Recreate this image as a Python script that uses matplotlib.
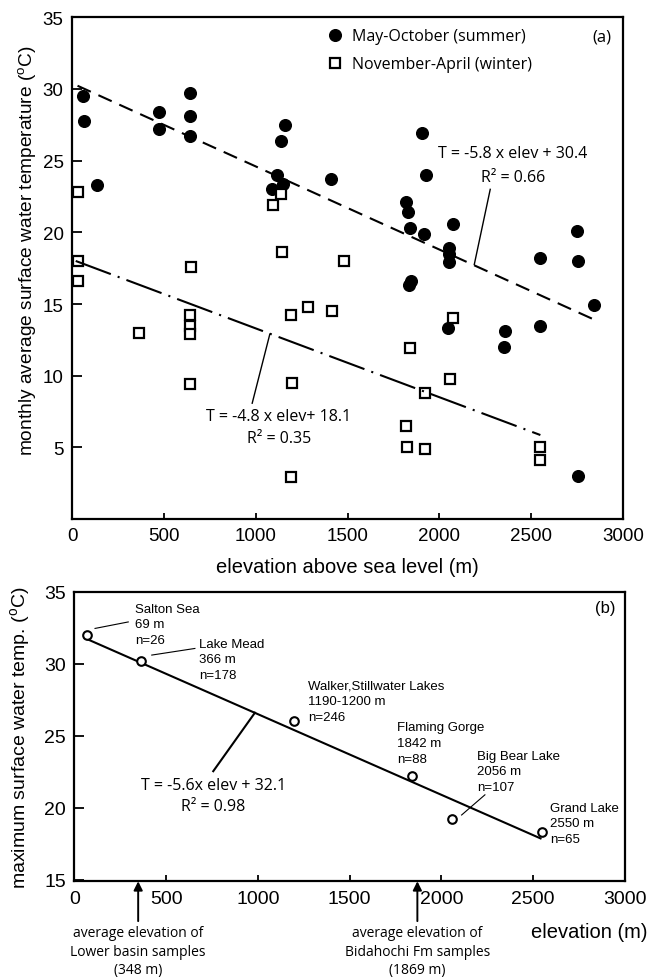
import numpy as np
import matplotlib.pyplot as plt

plt.rcParams['font.family'] = ['Liberation Sans', 'DejaVu Sans']
plt.rcParams['mathtext.fontset'] = 'custom'
plt.rcParams['mathtext.rm'] = 'Liberation Sans'
plt.rcParams['mathtext.it'] = 'Liberation Sans:italic'

NOTE_FONT = ['Open Sans', 'DejaVu Sans']

## (a) monthly average surface water temperature
summer_elev = [60, 63, 136, 472, 472, 645, 645, 640, 1158, 1136, 1118, 1150, 1090,
               1412, 1908, 1926, 1817, 1830, 1841, 1917, 2077, 2053, 2053, 2053,
               2550, 2750, 2753, 1834, 1845, 2844, 2550, 2359, 2353, 2045, 2753]
summer_temp = [29.5, 27.8, 23.3, 28.4, 27.2, 29.7, 28.1, 26.7, 27.5, 26.4, 24.0, 23.4, 23.0,
               23.7, 26.9, 24.0, 22.1, 21.4, 20.3, 19.9, 20.6, 18.9, 18.5, 17.9,
               18.2, 20.1, 18.0, 16.3, 16.6, 14.9, 13.5, 13.1, 12.0, 13.3, 3.0]

winter_elev = [33, 33, 33, 650, 1140, 1096, 1145, 1480, 367, 640, 640, 640, 640,
               1190, 1287, 1418, 1196, 1190, 2075, 1839, 2057, 1923, 1821, 1823,
               1921, 2550, 2550]
winter_temp = [22.8, 18.0, 16.6, 17.6, 22.7, 21.9, 18.6, 18.0, 13.0, 14.2, 13.5, 12.9, 9.4,
               14.2, 14.8, 14.5, 9.5, 2.9, 14.0, 11.9, 9.8, 8.8, 6.5, 5.0,
               4.9, 5.0, 4.1]

# linear fits, T = slope * elev(km) + intercept
summer_fit = (-5.8, 30.4)
winter_fit = (-4.8, 18.1)
summer_span = (30, 2840)
winter_span = (20, 2550)

## (b) maximum surface water temperature by lake
lake_names = ['Salton Sea', 'Lake Mead', 'Walker,Stillwater Lakes', 'Flaming Gorge',
              'Big Bear Lake', 'Grand Lake']
lake_elev = [69, 366, 1195, 1842, 2056, 2550]
lake_elev_txt = ['69 m', '366 m', '1190-1200 m', '1842 m', '2056 m', '2550 m']
lake_n = [26, 178, 246, 88, 107, 65]
lake_tmax = [32.0, 30.2, 26.0, 22.2, 19.2, 18.3]
max_fit = (-5.6, 32.1)
max_span = (69, 2540)

basin_elev = [348, 1869]
basin_names = ['Lower basin samples', 'Bidahochi Fm samples']


def fit_line(fit, span):
    x = np.array(span, dtype=float)
    return x, fit[0] * x / 1000.0 + fit[1]


def style_axes(ax):
    for s in ax.spines.values():
        s.set_linewidth(1.6)
    ax.tick_params(direction='in', width=1.3, labelsize=13.5, top=False, right=False)
    ax.tick_params(axis='y', length=7, pad=6)
    ax.tick_params(axis='x', length=4, pad=6)


fig = plt.figure(figsize=(6.5, 9.79), dpi=100)
ax1 = fig.add_axes([0.1108, 0.4688, 0.8477, 0.5125])
ax2 = fig.add_axes([0.1143, 0.0988, 0.8472, 0.2958])

# ---- top panel
x, y = fit_line(summer_fit, summer_span)
ax1.plot(x, y, color='k', lw=1.5, dashes=(7, 4), zorder=4)
x, y = fit_line(winter_fit, winter_span)
ax1.plot(x, y, color='k', lw=1.5, dashes=(18, 3.5, 1, 3.5), zorder=4)

h1, = ax1.plot(summer_elev, summer_temp, 'o', ms=8.4, color='k', zorder=2)
h2, = ax1.plot(winter_elev, winter_temp, 's', ms=7.5, mfc='white', mec='k', mew=1.6, zorder=3)

ax1.legend([h1, h2], ['May-October (summer)', 'November-April (winter)'],
           loc='center left', bbox_to_anchor=(0.4628, 0.9345), frameon=False,
           handlelength=1.0, handletextpad=0.55, borderpad=0, borderaxespad=0,
           labelspacing=0.75, prop={'family': NOTE_FONT, 'size': 11.5})

ax1.text(0.962, 0.961, '(a)', transform=ax1.transAxes, ha='center', va='center',
         family=NOTE_FONT, fontsize=12)

ax1.text(2399, 24.7, 'T = -5.8 x elev + 30.4\nR² = 0.66', ha='center', va='center',
         family=NOTE_FONT, fontsize=11.5, linespacing=1.6)
ax1.plot([2277, 2190], [23.0, 17.75], color='k', lw=1.0)

ax1.text(1127, 6.4, 'T = -4.8 x elev+ 18.1\nR² = 0.35', ha='center', va='center',
         family=NOTE_FONT, fontsize=11.5, linespacing=1.5)
ax1.plot([981, 1077], [8.08, 12.9], color='k', lw=1.0)

ax1.set_xlim(0, 3000)
ax1.set_ylim(0, 35)
ax1.set_xticks(np.arange(0, 3001, 500))
ax1.set_yticks(np.arange(0, 36, 5))
ax1.set_yticklabels(['', '5', '10', '15', '20', '25', '30', '35'])
style_axes(ax1)
ax1.set_xlabel('elevation above sea level (m)', fontsize=14.5)
ax1.xaxis.set_label_coords(0.5, -0.094)
ax1.xaxis.label.set_va('center')
ax1.set_ylabel(r'monthly average surface water temperature ($^{\rm o}$C)', fontsize=13.8)
ax1.yaxis.set_label_coords(-0.082, 0.538)
ax1.yaxis.label.set_va('center')

# ---- bottom panel
x, y = fit_line(max_fit, max_span)
ax2.plot(x, y, color='k', lw=1.5, zorder=2)
ax2.plot(lake_elev, lake_tmax, 'o', ms=6.2, mfc='white', mec='k', mew=1.5, zorder=3)

label_pos = [(331, 34.24), (681, 31.81), (1274, 28.9), (1759, 26.0), (2192, 24.03), (2591, 20.43)]
for name, etxt, n, (lx, ly) in zip(lake_names, lake_elev_txt, lake_n, label_pos):
    ax2.text(lx, ly, f'{name}\n{etxt}\nn={n}', ha='left', va='top',
             fontsize=9.5, linespacing=1.4)

# leaders from labels to their points
ax2.plot([113, 294], [32.45, 32.9], color='k', lw=0.8)
ax2.plot([422, 657], [30.6, 31.06], color='k', lw=0.8)
ax2.plot([2110, 2237], [19.5, 20.9], color='k', lw=0.8)

ax2.text(757, 20.85, 'T = -5.6x elev + 32.1\nR² = 0.98', ha='center', va='center',
         family=NOTE_FONT, fontsize=11.5, linespacing=1.4)
ax2.plot([757, 984], [22.54, 26.6], color='k', lw=1.5)

ax2.text(0.9637, 0.946, '(b)', transform=ax2.transAxes, ha='center', va='center',
         fontsize=12)

for be, bn in zip(basin_elev, basin_names):
    ax2.annotate(f'average elevation of\n{bn}\n({be} m)', xy=(be, 14.9),
                 xytext=(be, -0.152), textcoords=('data', 'axes fraction'),
                 ha='center', va='top', family=NOTE_FONT, fontsize=10, linespacing=1.3,
                 annotation_clip=False,
                 arrowprops=dict(arrowstyle='-|>', color='k', lw=1.4,
                                 mutation_scale=13, shrinkA=1, shrinkB=0))

ax2.set_xlim(0, 3000)
ax2.set_ylim(14.9, 35)
ax2.set_xticks(np.arange(0, 3001, 500))
ax2.set_yticks(np.arange(15, 36, 5))
style_axes(ax2)
ax2.tick_params(labelsize=14)
ax2.text(1.04, -0.175, 'elevation (m)', transform=ax2.transAxes, ha='right', va='center',
         fontsize=14.5)
ax2.set_ylabel(r'maximum surface water temp. ($^{\rm o}$C)', fontsize=14)
ax2.yaxis.set_label_coords(-0.0986, 0.5)
ax2.yaxis.label.set_va('center')

fig.savefig('out.png', dpi=100)
